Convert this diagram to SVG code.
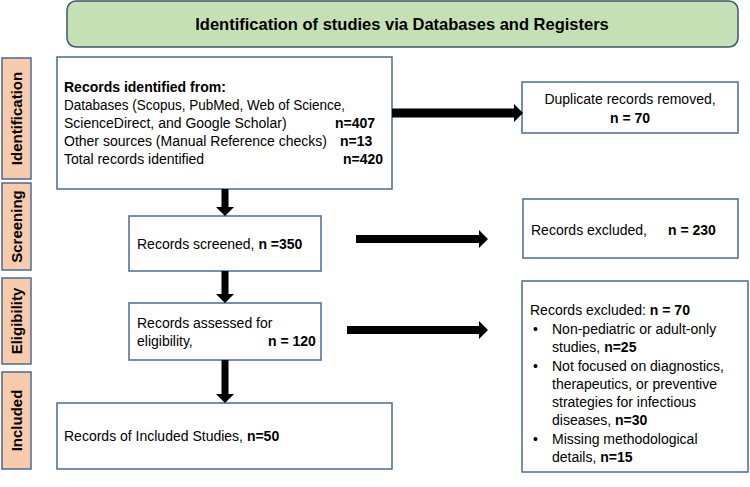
<svg xmlns="http://www.w3.org/2000/svg" width="750" height="487" viewBox="0 0 750 487">
<style>
text{font-family:"Liberation Sans",Arial,sans-serif;font-size:14px;fill:#000}
.b{font-weight:bold}
.box{fill:#fff;stroke:#4a6a96;stroke-width:1.5}
.lab{fill:#f8cbad;stroke:#4a6a96;stroke-width:1.5}
.lt{font-weight:bold;font-size:15px;text-anchor:middle}
.sh{fill:#000}
</style>
<g id="title">
<rect x="67" y="1" width="671" height="46" rx="9" fill="#c5e0b4" stroke="#44546a" stroke-width="1.5"/>
<text x="402" y="30" class="b" style="font-size:16.5px" text-anchor="middle">Identification of studies via Databases and Registers</text>
</g>
<g id="lab-identification">
<rect class="lab" x="2" y="58" width="29" height="121"/>
<text class="lt" transform="translate(22,118.5) rotate(-90)">Identification</text>
</g>
<g id="lab-screening">
<rect class="lab" x="2" y="183" width="29" height="87"/>
<text class="lt" transform="translate(22,226.5) rotate(-90)">Screening</text>
</g>
<g id="lab-eligibility">
<rect class="lab" x="2" y="278" width="29" height="86"/>
<text class="lt" transform="translate(22,321) rotate(-90)">Eligibility</text>
</g>
<g id="lab-included">
<rect class="lab" x="2" y="372" width="29" height="97"/>
<text class="lt" transform="translate(22,420.5) rotate(-90)">Included</text>
</g>
<g id="identified">
<rect class="box" x="57" y="57" width="335" height="132"/>
<text x="64" y="92" class="b">Records identified from:</text>
<text x="64" y="110" textLength="281" lengthAdjust="spacingAndGlyphs">Databases (Scopus, PubMed, Web of Science,</text>
<text x="64" y="128">ScienceDirect, and Google Scholar)</text>
<text x="335" y="128" class="b">n=407</text>
<text x="64" y="146">Other sources (Manual Reference checks)</text>
<text x="340" y="146" class="b">n=13</text>
<text x="64" y="164">Total records identified</text>
<text x="343" y="164" class="b">n=420</text>
</g>
<g id="duplicates">
<rect class="box" x="522" y="82" width="216" height="51"/>
<text x="630" y="104" text-anchor="middle">Duplicate records removed,</text>
<text x="630" y="123" text-anchor="middle" class="b">n = 70</text>
</g>
<g id="screened">
<rect class="box" x="129" y="216" width="192" height="55"/>
<text x="137" y="249">Records screened,  <tspan class="b">n =350</tspan></text>
</g>
<g id="excluded1">
<rect class="box" x="523" y="199" width="215" height="59"/>
<text x="531" y="235">Records excluded,</text>
<text x="668" y="235" class="b">n = 230</text>
</g>
<g id="assessed">
<rect class="box" x="129" y="303" width="192" height="57"/>
<text x="137" y="328">Records assessed for</text>
<text x="137" y="346">eligibility,</text>
<text x="268" y="346" class="b">n = 120</text>
</g>
<g id="excluded2">
<rect class="box" x="522" y="281" width="226" height="191"/>
<text x="530" y="315">Records excluded: <tspan class="b">n = 70</tspan></text>
<text x="533" y="334">•</text>
<text x="552" y="334">Non-pediatric or adult-only</text>
<text x="552" y="352">studies, <tspan class="b">n=25</tspan></text>
<text x="533" y="371">•</text>
<text x="552" y="371">Not focused on diagnostics,</text>
<text x="552" y="389">therapeutics, or preventive</text>
<text x="552" y="407">strategies for infectious</text>
<text x="552" y="425">diseases, <tspan class="b">n=30</tspan></text>
<text x="533" y="444">•</text>
<text x="552" y="444">Missing methodological</text>
<text x="552" y="462">details, <tspan class="b">n=15</tspan></text>
</g>
<g id="included">
<rect class="box" x="57" y="403" width="335" height="66"/>
<text x="64" y="441">Records of Included Studies, <tspan class="b">n=50</tspan></text>
</g>
<g id="connectors" class="sh">
<polygon points="392,108.5 514,108.5 514,104 523,113 514,122 514,117.5 392,117.5"/>
<polygon points="356,235 479,235 479,230 488,239 479,248 479,243 356,243"/>
<polygon points="347,326 479,326 479,321 488,330 479,339 479,334 347,334"/>
<polygon points="221.5,189 228.5,189 228.5,207 234,207 225,216 216,207 221.5,207"/>
<polygon points="221.5,271 228.5,271 228.5,294 234,294 225,303 216,294 221.5,294"/>
<polygon points="221.5,360 228.5,360 228.5,394 234,394 225,403 216,394 221.5,394"/>
</g>
</svg>
